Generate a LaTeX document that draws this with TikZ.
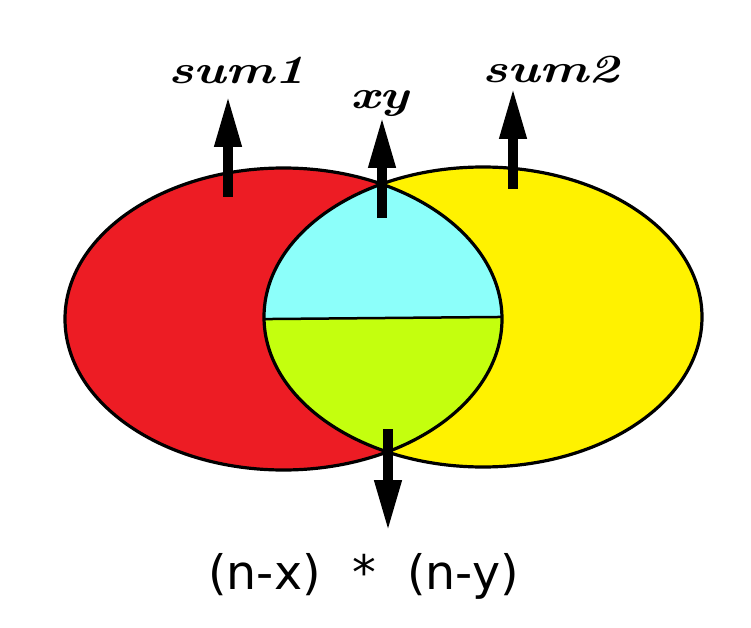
\documentclass[tikz,border=0pt]{standalone}
\usepackage{fontspec}
\usepackage{graphicx}
\newfontfamily\dejavu{DejaVu Sans}
\usetikzlibrary{arrows.meta}
\definecolor{vred}{RGB}{237,28,36}
\definecolor{vyellow}{RGB}{255,242,0}
\definecolor{vcyan}{RGB}{140,255,250}
\definecolor{vgreen}{RGB}{196,255,14}
\tikzset{
  outline/.style={line width=3.2pt, draw=black},
  bigarrow/.style={line width=10pt, -{Triangle[length=52pt,width=25pt]}, shorten >=0pt},
  handlabel/.style={inner sep=0pt, font=\fontsize{40}{40}\selectfont\bfseries\itshape},
}
\begin{document}
\begin{tikzpicture}[x=1pt,y=-1pt]
\useasboundingbox (0,0) rectangle (751,628);
\fill[white] (0,0) rectangle (751,628);
% fills
\fill[vred] (283.5,319) ellipse [x radius=218.5pt, y radius=151pt];
\fill[vyellow] (483,317) ellipse [x radius=219pt, y radius=150pt];
\begin{scope}
  \clip (283.5,319) ellipse [x radius=218.5pt, y radius=151pt];
  \clip (483,317) ellipse [x radius=219pt, y radius=150pt];
  \fill[vcyan] (250,150) rectangle (520,318);
  \fill[vgreen] (250,318) rectangle (520,480);
  \draw[line width=2.5pt] (250,319.2) -- (520,316.8);
\end{scope}
% outlines
\draw[outline] (283.5,319) ellipse [x radius=218.5pt, y radius=151pt];
\draw[outline] (483,317) ellipse [x radius=219pt, y radius=150pt];
% arrow coordinates
\coordinate (s1a) at (228,197);
\coordinate (s1b) at (228,95);
\coordinate (xya) at (382,218);
\coordinate (xyb) at (382,116);
\coordinate (s2a) at (513,189);
\coordinate (s2b) at (513,87);
\coordinate (bta) at (388,429);
\coordinate (btb) at (388,532);
\draw[bigarrow] (s1a) -- (s1b);
\draw[bigarrow] (xya) -- (xyb);
\draw[bigarrow] (s2a) -- (s2b);
\draw[bigarrow] (bta) -- (btb);
% labels
\node[handlabel] (sum1) at (237,70) {\scalebox{1.3}[1]{sum1}};
\node[handlabel] (xy) at (380,104) {\scalebox{1.3}[1]{xy}};
\node[handlabel] (sum2) at (551,70) {\scalebox{1.3}[1]{sum2}};
\node[inner sep=0pt, anchor=base, font=\dejavu\fontsize{47.5}{47.5}\selectfont] (formula) at (363.5,589) {(n-x)\hspace{0.66em}*\hspace{0.66em}(n-y)};
\end{tikzpicture}
\end{document}
